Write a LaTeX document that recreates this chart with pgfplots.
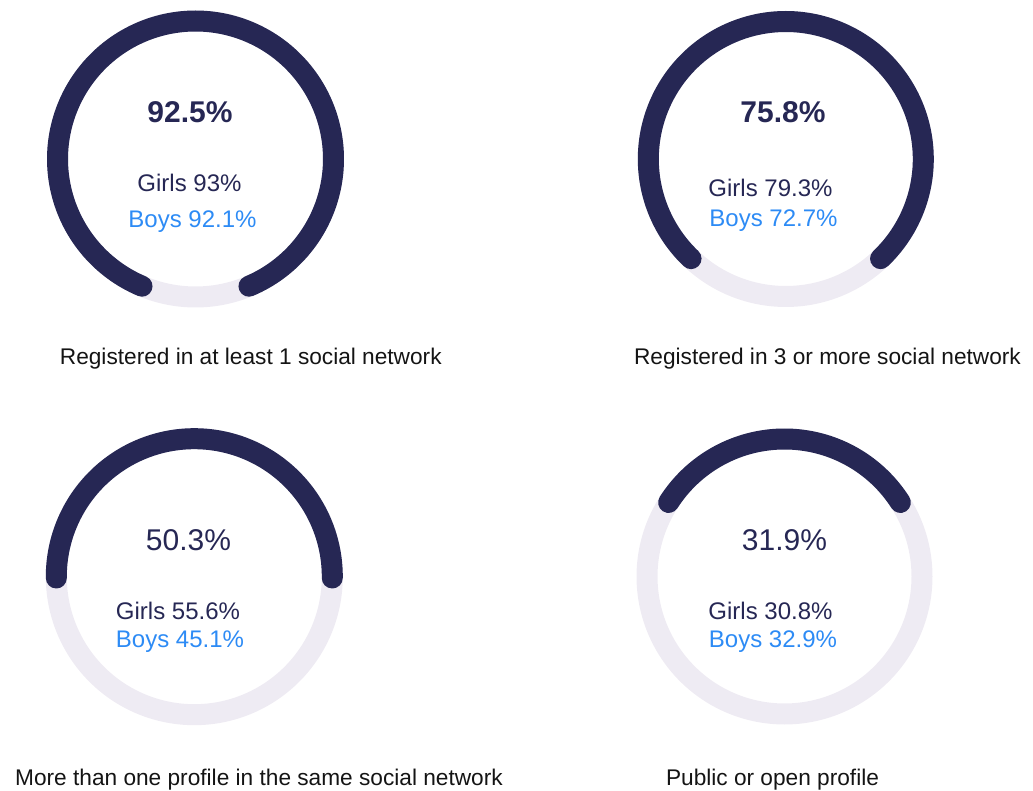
\documentclass[border=0pt]{standalone}
\usepackage{pgfplots}
\pgfplotsset{compat=1.18}
\usepackage{fontspec}
\setmainfont{Liberation Sans}
\definecolor{navy}{HTML}{262754}
\definecolor{ringbg}{HTML}{EEEBF3}
\definecolor{boyblue}{HTML}{2D8BF5}
\definecolor{labeltxt}{HTML}{141414}
\tikzset{
  ring/.style={ringbg, line width=15.75pt},
  val/.style={navy, line width=15.75pt, line cap=round},
  big/.style={anchor=base, inner sep=0pt, navy, font=\fontsize{22.5}{26}\selectfont},
  bigb/.style={anchor=base, inner sep=0pt, navy, font=\fontsize{22.5}{26}\selectfont\bfseries},
  girls/.style={anchor=base, inner sep=0pt, navy, font=\fontsize{18}{21}\selectfont},
  boys/.style={anchor=base, inner sep=0pt, boyblue, font=\fontsize{18}{21}\selectfont},
  lab/.style={anchor=base, inner sep=0pt, labeltxt, font=\fontsize{17}{20}\selectfont}}
\begin{document}
\begin{tikzpicture}
\begin{axis}[name=ax, x=0.75pt, y=0.75pt, y dir=reverse,
  xmin=0, xmax=1033, ymin=0, ymax=791, hide axis, clip=false,
  samples=181, variable=\t]
% Gauge 1: 92.5% (arc as drawn in the reference, gap slightly wider)
\addplot[ring, no marks, domain=0:360] ({195.5+138*cos(\t)},{159-138*sin(\t)});
\addplot[val, no marks, domain=-67.2:247.2] ({195.5+138*cos(\t)},{159-138*sin(\t)});
% Gauge 2: 75.8%
\addplot[ring, no marks, domain=0:360] ({785.8+137.5*cos(\t)},{159-137.5*sin(\t)});
\addplot[val, no marks, domain={90-1.8*75.8}:{90+1.8*75.8}] ({785.8+137.5*cos(\t)},{159-137.5*sin(\t)});
% Gauge 3: 50.3%
\addplot[ring, no marks, domain=0:360] ({194.3+138*cos(\t)},{576.7-138*sin(\t)});
\addplot[val, no marks, domain={90-1.8*50.3}:{90+1.8*50.3}] ({194.3+138*cos(\t)},{576.7-138*sin(\t)});
% Gauge 4: 31.9%
\addplot[ring, no marks, domain=0:360] ({784.5+137.5*cos(\t)},{576.5-137.5*sin(\t)});
\addplot[val, no marks, domain={90-1.8*31.9}:{90+1.8*31.9}] ({784.5+137.5*cos(\t)},{576.5-137.5*sin(\t)});

\node[bigb] at (axis cs:190,122.7) {92.5\%};
\node[girls] at (axis cs:189.5,192) {Girls 93\%};
\node[boys] at (axis cs:192.5,227.5) {Boys 92.1\%};

\node[bigb] at (axis cs:783,122.7) {75.8\%};
\node[girls] at (axis cs:770.5,197) {Girls 79.3\%};
\node[boys] at (axis cs:773.5,226.5) {Boys 72.7\%};

\node[big] at (axis cs:188.5,551) {50.3\%};
\node[girls] at (axis cs:178,620) {Girls 55.6\%};
\node[boys] at (axis cs:180,647.5) {Boys 45.1\%};

\node[big] at (axis cs:784.5,550.7) {31.9\%};
\node[girls] at (axis cs:770.5,620) {Girls 30.8\%};
\node[boys] at (axis cs:773,647.5) {Boys 32.9\%};

\node[lab] at (axis cs:250.8,365) {Registered in at least 1 social network};
\node[lab] at (axis cs:827.5,365) {Registered in 3 or more social network};
\node[lab] at (axis cs:259,785) {More than one profile in the same social network};
\node[lab] at (axis cs:772.5,785) {Public or open profile};
\end{axis}
\pgfresetboundingbox
\path (ax.south west) rectangle (ax.north east);
\end{tikzpicture}
\end{document}
